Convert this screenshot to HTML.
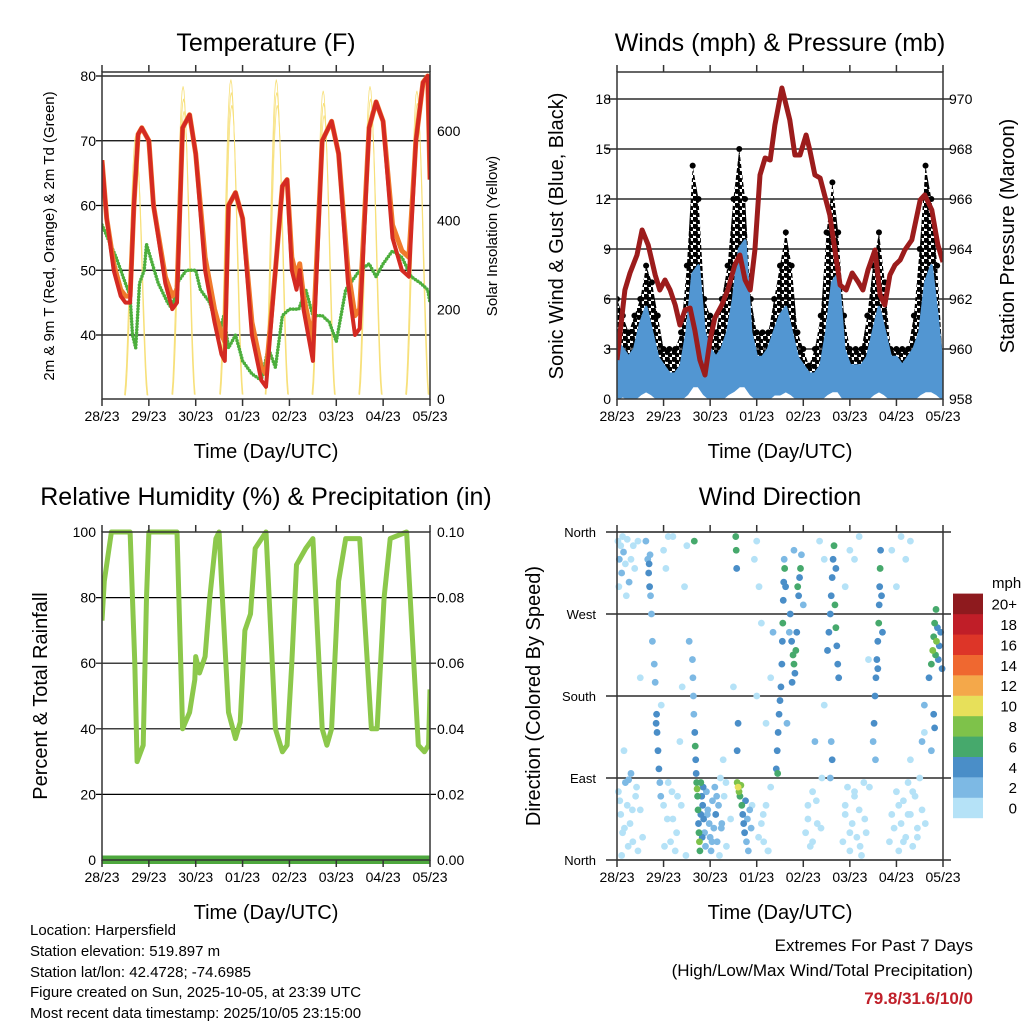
<!DOCTYPE html>
<html><head><meta charset="utf-8"><style>
html,body{margin:0;padding:0;background:#fff;}
svg{display:block;font-family:"Liberation Sans",Arial,sans-serif;}
</style></head><body>
<svg id="chart" width="1024" height="1024" viewBox="0 0 1024 1024" xmlns="http://www.w3.org/2000/svg">
<defs>
<pattern id="dots" width="7" height="7" patternUnits="userSpaceOnUse"><circle cx="2" cy="2" r="3" fill="#000"/><circle cx="5.5" cy="5.5" r="2.6" fill="#000"/></pattern>
</defs>
<rect width="1024" height="1024" fill="#fff"/>
<text x="266" y="51" font-size="25" text-anchor="middle">Temperature (F)</text>
<text x="780" y="51" font-size="25" text-anchor="middle">Winds (mph) &amp; Pressure (mb)</text>
<text x="266" y="505" font-size="25" text-anchor="middle">Relative Humidity (%) &amp; Precipitation (in)</text>
<text x="780" y="505" font-size="25" text-anchor="middle">Wind Direction</text>
<text x="266" y="458" font-size="20" text-anchor="middle">Time (Day/UTC)</text>
<text x="780" y="458" font-size="20" text-anchor="middle">Time (Day/UTC)</text>
<text x="266" y="919" font-size="20" text-anchor="middle">Time (Day/UTC)</text>
<text x="780" y="919" font-size="20" text-anchor="middle">Time (Day/UTC)</text>
<text transform="translate(54,236) rotate(-90)" font-size="15" text-anchor="middle">2m &amp; 9m T (Red, Orange) &amp; 2m Td (Green)</text>
<text transform="translate(497,236) rotate(-90)" font-size="15" text-anchor="middle">Solar Insolation (Yellow)</text>
<text transform="translate(563,236) rotate(-90)" font-size="20" text-anchor="middle">Sonic Wind &amp; Gust (Blue, Black)</text>
<text transform="translate(1014,236) rotate(-90)" font-size="20" text-anchor="middle">Station Pressure (Maroon)</text>
<text transform="translate(47,696) rotate(-90)" font-size="20" text-anchor="middle">Percent &amp; Total Rainfall</text>
<text transform="translate(540,696) rotate(-90)" font-size="20" text-anchor="middle">Direction (Colored By Speed)</text>
<g font-size="15">
<text x="30" y="935">Location: Harpersfield</text>
<text x="30" y="956">Station elevation: 519.897 m</text>
<text x="30" y="977">Station lat/lon: 42.4728; -74.6985</text>
<text x="30" y="997">Figure created on Sun, 2025-10-05, at 23:39 UTC</text>
<text x="30" y="1018">Most recent data timestamp: 2025/10/05 23:15:00</text>
</g>
<text x="973" y="951" font-size="17" text-anchor="end">Extremes For Past 7 Days</text>
<text x="973" y="976" font-size="17" text-anchor="end">(High/Low/Max Wind/Total Precipitation)</text>
<text x="973" y="1004" font-size="17" font-weight="bold" fill="#c0202a" text-anchor="end">79.8/31.6/10/0</text>
<g id="layer"></g>
</svg>
<script>
const dayLabels = ['28/23','29/23','30/23','01/23','02/23','03/23','04/23','05/23'];
// Temperature
const tempT = [0,0.1,0.25,0.4,0.5,0.6,0.68,0.77,0.85,1.0,1.1,1.35,1.5,1.6,1.72,1.87,2.0,2.2,2.4,2.55,2.62,2.7,2.85,3.0,3.2,3.4,3.5,3.7,3.85,3.95,4.05,4.15,4.22,4.3,4.5,4.7,4.9,5.05,5.25,5.4,5.5,5.7,5.85,6.0,6.2,6.4,6.55,6.7,6.85,6.95,7.0];
const temp2m = [67,58,50,46,45,45,60,71,72,70,60,48,44,45,72,74,68,50,42,37,36,60,62,58,40,33,32,50,63,64,50,47,50,44,36,70,73,68,48,40,41,72,76,73,55,50,49,70,79,80,64];
const temp9m = [67,58,51,47,46,46,60,71,72,70,60,49,46,47,72,74,68,52,44,40,39,60,62,58,42,35,34,50,63,64,52,49,51,46,39,70,73,68,50,43,44,72,76,73,57,53,52,70,79,80,64];
const dewT = [0,0.3,0.5,0.6,0.65,0.72,0.8,0.9,0.95,1.2,1.4,1.5,1.6,1.8,2.0,2.1,2.3,2.5,2.6,2.7,2.85,3.0,3.2,3.4,3.55,3.7,3.85,4.0,4.2,4.35,4.5,4.7,4.85,5.0,5.2,5.5,5.7,5.85,6.0,6.2,6.4,6.6,6.8,6.95,7.0];
const dewV = [57,52,48,46,40,38,48,50,54,48,45,44,48,50,50,47,45,40,43,38,40,36,34,33,38,35,43,44,44,47,43,43,42,39,47,50,51,49,51,53,52,49,48,47,45];
const solarPeakT = [0.72,1.73,2.75,3.72,4.72,5.72,6.72];
const solarPeakV = [590,700,715,715,690,700,690];
const tempTicks = [40,50,60,70,80];
const solarTicks = [0,200,400,600];
// Winds
const windHi = [3.5,3,2.5,3,4.5,5.5,4,2.5, 2,1.5,1.5,2,4,7.5,8,4, 3,2.5,3,4,6,9,9.5,4, 2.5,2.5,3,4,5,5.5,4,2.5, 2,1.5,1.5,2,4,7,7.5,3, 2,2,2,2.5,4,5.5,4,2.5, 2.5,2,2.5,3,4,7,8,5, 1.5];
const windLo = [0,0.2,0,0,0.3,0.5,0.3,0, 0,0,0,0,0.3,0.8,0.8,0.3, 0,0,0,0.3,0.5,0.8,0.8,0.3, 0,0,0,0.3,0.3,0.5,0.3,0, 0,0,0,0,0.3,0.5,0.5,0, 0,0,0,0,0.3,0.5,0.3,0, 0,0,0,0,0.3,0.5,0.5,0.3, 0];
const gustV = [6,5,4,5,6,8,7,5, 3,3,3,4,8,14,12,6, 5,4,6,8,12,15,12,6, 4,4,4,6,8,10,8,4, 3,2,3,5,10,13,10,5, 3,3,3,5,8,10,7,3, 3,3,3,5,9,14,12,8, 2];
const presT = [0,0.17,0.28,0.43,0.54,0.67,0.82,0.92,1.03,1.14,1.25,1.35,1.46,1.57,1.67,1.78,1.89,2.0,2.1,2.25,2.38,2.53,2.64,2.75,2.86,2.96,3.07,3.18,3.29,3.39,3.54,3.71,3.82,3.93,4.06,4.14,4.25,4.36,4.57,4.79,4.92,5.05,5.18,5.28,5.39,5.54,5.65,5.75,5.86,5.97,6.08,6.18,6.33,6.51,6.61,6.76,6.89,7.0];
const presV = [959.56,962.36,963.04,963.76,964.76,964.16,962.96,962.36,962.76,962.36,961.76,960.96,961.56,961.64,960.76,959.56,958.96,960.36,961.24,961.76,962.36,963.36,963.76,962.76,962.36,963.96,966.96,967.64,967.56,968.96,970.44,969.16,967.76,967.76,968.56,967.96,966.96,966.84,965.36,962.56,962.36,963.04,962.68,962.36,963.16,963.96,962.16,961.76,962.96,963.36,963.56,963.96,964.36,965.96,966.16,965.56,964.16,963.48];
const windTicks = [0,3,6,9,12,15,18];
const presTicks = [958,960,962,964,966,968,970];
// Humidity
const rhT = [0,0.05,0.2,0.6,0.7,0.75,0.88,0.95,1.0,1.6,1.72,1.87,1.98,2.0,2.08,2.2,2.3,2.43,2.5,2.55,2.7,2.85,2.95,3.05,3.17,3.27,3.5,3.7,3.85,3.95,4.05,4.15,4.35,4.5,4.7,4.8,4.9,5.05,5.2,5.5,5.75,5.87,6.02,6.15,6.5,6.75,6.88,6.97,7.0];
const rhV = [73,85,100,100,60,30,35,80,100,100,40,45,55,62,57,62,80,98,100,85,45,37,42,70,75,95,100,40,33,35,60,90,95,98,40,35,40,85,98,98,40,40,80,98,100,35,33,35,52];
const precipT = [0,7];
const precipV = [0,0];
const rhTicks = [0,20,40,60,80,100];
const precipTicks = ['0.00','0.02','0.04','0.06','0.08','0.10'];
// Direction
const dirT = [0.02,0.05,0.08,0.1,0.14,0.18,0.22,0.26,0.3,0.35,0.04,0.12,0.2,0.38,0.45,
0.03,0.08,0.12,0.18,0.22,0.28,0.34,0.4,0.45,0.5,0.15,0.3,0.25,0.1,
0.62,0.66,0.68,0.7,0.72,0.74,0.76,0.8,0.82,0.85,0.86,0.88,0.9,0.92,0.94,0.69,0.71,0.84,
1.0,1.05,1.1,1.15,1.2,1.25,1.3,1.35,1.4,1.45,1.5,1.0,1.1,1.2,
1.62,1.63,1.64,1.65,1.67,1.68,1.69,1.7,1.71,1.72,1.73,1.74,1.75,1.76,1.77,1.78,1.8,1.82,1.84,1.86,1.88,1.9,1.85,1.8,1.83,1.66,
1.92,1.95,1.98,2.0,2.02,2.05,2.08,2.1,2.12,2.15,2.18,2.2,2.25,2.3,2.35,2.22,2.28,
2.58,2.6,2.62,2.64,2.66,2.68,2.7,2.72,2.74,2.76,2.78,2.8,2.82,2.85,2.88,2.55,2.56,2.57,2.6,2.58,
2.95,3.0,3.05,3.1,3.15,3.2,3.25,3.3,3.0,3.2,3.35,3.1,
3.42,3.44,3.46,3.48,3.5,3.52,3.54,3.55,3.56,3.57,3.58,3.6,3.62,3.59,3.45,
3.7,3.72,3.75,3.78,3.8,3.82,3.84,3.86,3.88,3.9,3.92,3.94,3.96,3.76,3.8,4.0,
4.05,4.1,4.15,4.2,4.3,4.4,4.25,4.35,4.45,
4.52,4.55,4.58,4.6,4.62,4.64,4.66,4.68,4.7,4.72,4.74,4.76,4.6,4.62,4.58,4.7,
4.85,4.9,4.95,5.0,5.05,5.1,5.15,5.2,5.25,5.3,5.35,5.0,5.2,5.1,4.9,
5.5,5.52,5.54,5.56,5.58,5.6,5.62,5.63,5.64,5.65,5.66,5.68,5.7,5.6,5.55,
5.85,5.9,6.0,6.05,6.1,6.15,6.2,6.25,6.3,6.35,6.4,6.45,6.5,6.55,6.6,5.9,6.1,6.3,6.0,6.2,
6.7,6.75,6.78,6.8,6.82,6.84,6.86,6.88,6.9,6.92,6.95,6.98,6.85,6.8,6.82,6.75,
0.06,0.16,0.24,0.33,0.42,0.55,1.02,1.08,1.18,1.28,1.38,1.48,1.94,2.04,2.14,2.24,2.34,2.44,2.9,3.04,3.14,3.24,4.1,4.2,4.28,4.38,4.9,5.0,5.1,5.22,5.32,5.42,5.95,6.05,6.15,6.25,6.35,6.45,6.55,6.62,0.5,0.95,1.55,2.5,3.3,3.65,4.45,5.4,6.3,6.6];
const dirD = [350,330,345,315,338,325,352,305,330,345,300,355,290,320,350,
75,50,30,85,60,40,20,70,10,55,120,95,88,5,
350,330,315,300,290,270,240,215,195,160,140,120,100,85,70,325,335,150,
340,320,355,20,45,10,70,130,190,300,345,60,85,355,
220,200,180,160,140,125,110,95,85,78,70,55,40,30,20,10,85,70,60,45,30,15,80,50,25,350,
75,55,40,25,10,65,35,80,50,20,60,5,40,70,15,90,110,
85,80,75,70,82,60,50,40,30,65,20,45,10,55,35,355,340,320,150,120,
330,350,300,40,20,60,10,80,180,150,250,260,
100,120,140,160,175,190,215,240,260,285,305,320,300,330,95,
250,270,240,225,215,205,230,250,300,290,310,320,335,195,340,280,
30,60,15,75,40,90,130,350,330,
230,250,270,290,310,330,345,280,255,235,215,200,130,110,90,320,
20,50,80,10,40,70,25,55,5,85,30,340,355,330,300,
130,150,180,200,220,240,260,280,300,320,340,290,250,210,110,
20,50,75,10,40,65,25,85,50,15,70,35,90,130,170,340,355,350,300,330,
200,215,230,245,260,225,240,255,220,235,250,210,275,160,145,120,
65,35,15,55,80,25,15,45,75,30,60,5,50,20,70,35,85,45,60,25,50,10,45,20,65,35,60,30,75,15,45,80,35,60,20,50,75,25,55,40,200,170,240,190,200,150,170,220,110,140];
const dirS = [1,2,1,2,2,1,1,2,1,1,1,0,1,0,0,
0,1,0,2,1,0,0,0,1,0,0,2,2,0,
2,2,4,4,3,2,2,3,3,4,4,4,4,3,2,4,3,4,
1,1,0,0,0,0,0,0,0,1,1,1,1,1,
2,3,2,3,4,6,4,4,7,8,6,6,4,6,8,6,6,4,4,4,2,2,4,4,4,7,
2,2,2,2,2,2,2,2,4,2,2,0,2,0,0,0,0,
8,10,8,6,9,6,4,4,4,4,2,2,2,2,2,6,6,4,4,4,
0,1,1,1,0,1,0,1,0,1,2,0,
4,4,4,4,4,4,4,4,6,4,4,6,4,2,6,
2,4,4,6,6,4,6,4,6,4,4,6,2,4,2,2,
1,0,1,0,1,0,2,0,1,
4,4,4,4,4,4,6,6,6,4,4,4,2,4,2,4,
0,0,0,0,0,0,0,0,0,0,0,0,1,1,1,
2,4,4,4,4,4,6,4,4,6,4,4,4,4,2,
0,0,0,0,0,0,0,0,0,0,0,0,0,2,2,1,0,1,0,1,
4,6,8,6,6,6,8,4,4,4,4,4,6,4,4,2,
0,1,0,0,1,0,0,0,1,0,0,0,2,2,2,2,1,1,1,0,0,0,1,0,0,1,0,0,0,0,0,0,0,0,0,0,0,0,1,0,0,1,2,0,1,2,1,0,0,1];
const dirTicks = ['North','East','South','West','North'];
const speedLabels = ['0','2','4','6','8','10','12','14','16','18','20+'];
const speedColors = ['#b5e2f7','#7db9e4','#4a8ec8','#46a96c','#7ec24a','#e7e05a','#f4a84a','#ef6830','#dd3528','#c01e28','#8e1a1e'];

const NS='http://www.w3.org/2000/svg';
const layer=document.getElementById('layer');
function mk(tag, at, parent){const e=document.createElementNS(NS,tag);for(const k in at)e.setAttribute(k,at[k]);(parent||layer).appendChild(e);return e;}
function lin(d0,d1,r0,r1){return v=>r0+(v-d0)*(r1-r0)/(d1-d0);}

const xL=lin(0,7,102,430), xR=lin(0,7,617,943);
const yTemp=lin(40,80,335,76), ySol=lin(0,600,399,131);
const yWind=lin(0,18,399,99), yPres=lin(958,970,399,99);
const yRH=lin(0,100,860,532), yDir=lin(0,360,860,532);

function grid(x0,x1,ys,name){ys.forEach(y=>{const l=mk('line',{x1:x0,x2:x1,y1:y,y2:y,stroke:'#000','stroke-width':1.2});

});}
function frame(x0,y0,x1,y1,name){const r=mk('rect',{x:x0,y:y0,width:x1-x0,height:y1-y0,fill:'none',stroke:'#333','stroke-width':1.5});


for(let i=0;i<8;i++){const x=x0+i*(x1-x0)/7;
const tb=mk('line',{x1:x,x2:x,y1:y1,y2:y1+7,stroke:'#333','stroke-width':1.5});


const tt=mk('line',{x1:x,x2:x,y1:y0,y2:y0-7,stroke:'#333','stroke-width':1.5});


const lb=mk('text',{x:x,y:y1+22,'font-size':14,'text-anchor':'middle'});lb.textContent=dayLabels[i];

}}
function ylab(x,y,txt,anchor,size){const t=mk('text',{x:x,y:y+5,'font-size':size||14,'text-anchor':anchor});t.textContent=txt;

}
function pts(ts,vs,fx,fy){return ts.map((t,i)=>fx(t).toFixed(1)+','+fy(vs[i]).toFixed(1)).join(' ');}

// ---- Panel 1 temperature
grid(96,430,tempTicks.map(yTemp),'temp-gridline');
const clip1=mk('clipPath',{id:'c1'});mk('rect',{x:102,y:72,width:328,height:327},clip1);
const g1=mk('g',{'clip-path':'url(#c1)'});


solarPeakT.forEach((pt,i)=>{for(let k=0;k<3;k++){const a=[];for(let j=-12;j<=12;j++){const dt=j*0.02;const f=Math.cos(dt/0.26*Math.PI/2);a.push(xL(pt+dt+k*0.01).toFixed(1)+','+ySol(solarPeakV[i]*(1-k*0.04)*f*f).toFixed(1));}
const s=mk('polyline',{points:a.join(' '),fill:'none',stroke:'#f7e07a','stroke-width':0.8},g1);

}});
const dl=mk('polyline',{points:pts(dewT,dewV,xL,yTemp),fill:'none',stroke:'#4cae3c','stroke-width':3.5,'stroke-dasharray':'0 3','stroke-linecap':'round'},g1);


const ol=mk('polyline',{points:pts(tempT,temp9m,xL,yTemp),fill:'none',stroke:'#f07a2c','stroke-width':5,'stroke-linejoin':'round'},g1);


const rl=mk('polyline',{points:pts(tempT,temp2m,xL,yTemp),fill:'none',stroke:'#d42a22','stroke-width':4,'stroke-linejoin':'round'},g1);


frame(102,72,430,399,'temperature-frame');
tempTicks.forEach(v=>ylab(96,yTemp(v),String(v),'end'));
solarTicks.forEach(v=>ylab(437,ySol(v),String(v),'start'));

// ---- Panel 2 winds
grid(606,951,windTicks.slice(1).map(yWind),'wind-gridline');
const clip2=mk('clipPath',{id:'c2'});mk('rect',{x:617,y:72,width:326,height:327},clip2);
const g2=mk('g',{'clip-path':'url(#c2)'});


const wt=windHi.map((v,i)=>i/8);
const gustPoly=pts(wt,gustV,xR,yWind)+' '+pts(wt.slice().reverse(),windHi.slice().reverse(),xR,yWind);
const ga=mk('polygon',{points:gustPoly,fill:'url(#dots)',stroke:'none'},g2);


gustV.forEach((v,i)=>{const c=mk('circle',{cx:xR(wt[i]),cy:yWind(v),r:3,fill:'#000'},g2);

});
const windPoly=pts(wt,windHi,xR,yWind)+' '+pts(wt.slice().reverse(),windLo.slice().reverse(),xR,yWind);
const wa=mk('polygon',{points:windPoly,fill:'#5296d2',stroke:'#5296d2','stroke-width':3,'stroke-linejoin':'round'},g2);


const pl=mk('polyline',{points:pts(presT,presV,xR,yPres),fill:'none',stroke:'#9c1c1c','stroke-width':5,'stroke-linejoin':'round'},g2);


frame(617,72,943,399,'wind-frame');
windTicks.forEach(v=>ylab(611,yWind(v),String(v),'end'));
presTicks.forEach(v=>ylab(949,yPres(v),String(v),'start'));

// ---- Panel 3 humidity
grid(96,436,rhTicks.slice(1,5).map(yRH),'rh-gridline');
const clip3=mk('clipPath',{id:'c3'});mk('rect',{x:102,y:528,width:328,height:336},clip3);
const g3=mk('g',{'clip-path':'url(#c3)'});


const pr=mk('polyline',{points:pts(precipT,precipV.map(v=>v*1000),xL,yRH),fill:'none',stroke:'#4ea83e','stroke-width':9},g3);


const rh=mk('polyline',{points:pts(rhT,rhV,xL,yRH),fill:'none',stroke:'#8cc84b','stroke-width':5,'stroke-linejoin':'round'},g3);


frame(102,532,430,860,'humidity-frame');
rhTicks.forEach(v=>ylab(96,yRH(v),String(v),'end'));
precipTicks.forEach((v,i)=>ylab(437,yRH(rhTicks[i]),v,'start'));

// ---- Panel 4 direction
grid(606,951,[90,180,270].map(yDir),'direction-gridline');
grid(606,951,[0,360].map(yDir),'direction-edge-line');
const clip4=mk('clipPath',{id:'c4'});mk('rect',{x:614,y:528,width:332,height:336},clip4);
const g4=mk('g',{'clip-path':'url(#c4)'});


const order=dirS.map((s,i)=>i).sort((a,b)=>dirS[a]-dirS[b]);
order.forEach(i=>{const c=mk('circle',{cx:xR(dirT[i]),cy:yDir(dirD[i]),r:3.4,fill:speedColors[Math.min(10,Math.floor(dirS[i]/2))]},g4);

});
frame(617,532,943,860,'direction-frame');
dirTicks.forEach((t,i)=>ylab(596,yDir(i*90),t,'end',13));
const mph=mk('text',{x:992,y:588,'font-size':15});mph.textContent='mph';


speedColors.forEach((c,i)=>{const y=818-(i+1)*20.4;
const r=mk('rect',{x:953,y:y,width:30,height:20.6,fill:c});


const t=mk('text',{x:1017,y:y+16,'font-size':15,'text-anchor':'end'});t.textContent=speedLabels[i];

});
</script>
</body></html>
